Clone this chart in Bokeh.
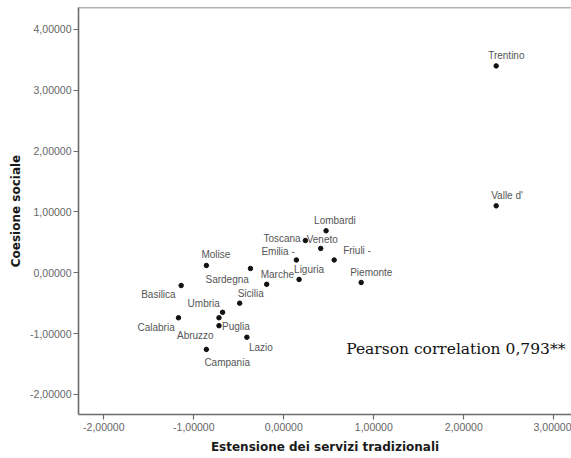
from bokeh.plotting import figure
from bokeh.models import ColumnDataSource, Span, Label, Range1d, FixedTicker
from bokeh.core.properties import value
from bokeh.embed import file_html
from bokeh.resources import INLINE

# Regional scores: traditional services extension (x) vs social cohesion (y)
regions = ["Piemonte", "Valle d'", "Lombardi", "Trentino", "Veneto", "Friuli -",
           "Liguria", "Emilia -", "Toscana", "Umbria", "Marche", "Lazio",
           "Abruzzo", "Molise", "Campania", "Puglia", "Basilica", "Calabria",
           "Sicilia", "Sardegna"]
servizi = [0.86, 2.36, 0.47, 2.36, 0.41, 0.56,
           0.17, 0.14, 0.24, -0.68, -0.19, -0.41,
           -0.72, -0.86, -0.86, -0.72, -1.14, -1.17,
           -0.49, -0.37]
coesione = [-0.16, 1.10, 0.69, 3.40, 0.40, 0.21,
            -0.11, 0.21, 0.53, -0.65, -0.19, -1.06,
            -0.87, 0.12, -1.26, -0.74, -0.21, -0.74,
            -0.50, 0.07]

# Tick positions and their labels
x_ticks = [-2, -1, 0, 1, 2, 3]
x_tick_labels = ["-2,00000", "-1,00000", "0,00000", "1,00000", "2,00000", "3,00000"]
y_ticks = [-2, -1, 0, 1, 2, 3, 4]
y_tick_labels = ["-2,00000", "-1,00000", "0,00000", "1,00000", "2,00000", "3,00000", "4,00000"]

correlation_text = "Pearson correlation 0,793**"

# Pixel offsets of each point label (left edge, vertical middle)
label_dx = [-11, -5, -12, -8, -14, 9, -5, -35, -42, -35, -6, 2,
            -42, -5, -2, 3, -40, -41, -2, -45]
label_dy = [-10, -10, -10, -10, -9, -9, -10, -8, -2, -9, -10, 10,
            10, -11, 13, 9, 9, 10, -10, 11]

src = ColumnDataSource(dict(x=servizi, y=coesione, name=regions,
                            dx=label_dx, dy=label_dy))

y_top = 4.36
p = figure(width=571, height=458, output_backend="svg", toolbar_location=None,
           x_range=Range1d(-2.281, 3.197), y_range=Range1d(-2.33, y_top),
           min_border_left=78, min_border_right=0, min_border_top=7,
           min_border_bottom=44, background_fill_color="white",
           border_fill_color="white")
p.outline_line_color = None
p.grid.visible = False

axis_col = "#6b6b6b"
for ax in (p.xaxis[0], p.yaxis[0]):
    ax.axis_line_color = axis_col
    ax.axis_line_width = 1.6
    ax.major_tick_line_color = axis_col
    ax.major_tick_line_width = 1.2
    ax.major_tick_in = 0
    ax.major_tick_out = 5
    ax.minor_tick_line_color = None
    ax.major_label_text_font = "Liberation Sans"
    ax.major_label_text_font_size = "10.5px"
    ax.major_label_text_color = "#666666"
    ax.axis_label_text_font = "DejaVu Sans"
    ax.axis_label_text_font_style = "bold"
    ax.axis_label_text_font_size = "12px"
    ax.axis_label_text_color = "#1a1a1a"

p.xaxis.ticker = FixedTicker(ticks=x_ticks)
p.yaxis.ticker = FixedTicker(ticks=y_ticks)
p.xaxis.major_label_overrides = dict(zip(x_ticks, x_tick_labels))
p.yaxis.major_label_overrides = dict(zip(y_ticks, y_tick_labels))
p.xaxis.axis_label = "Estensione dei servizi tradizionali"
p.yaxis.axis_label = "Coesione sociale"
p.xaxis.major_label_standoff = 3
p.yaxis.major_label_standoff = 2
p.xaxis.axis_label_standoff = 6
p.yaxis.axis_label_standoff = 4

# top edge of the frame
p.add_layout(Span(location=y_top, dimension="width", line_color=axis_col,
                  line_width=1.6))

p.scatter("x", "y", source=src, size=4.5, color="#111111")
p.text("x", "y", text="name", source=src, x_offset="dx", y_offset="dy",
       text_font=value("Liberation Sans"), text_font_size="10px",
       text_color="#555555", text_align="left", text_baseline="middle")

p.add_layout(Label(x=0.693, y=-1.247, text=correlation_text,
                   text_font="DejaVu Serif", text_font_size="15.5px",
                   text_color="#111111", text_baseline="middle",
                   text_align="left"))

open("out.html", "w").write(file_html(p, INLINE))
